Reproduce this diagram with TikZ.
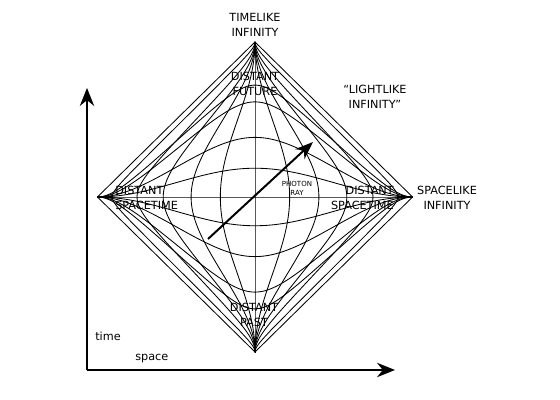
\documentclass[tikz,border=0pt]{standalone}
\usepackage{fontspec}
\setmainfont{DejaVu Sans}
\usetikzlibrary{positioning,arrows.meta}

\tikzset{
  gridline/.style={line width=0.6pt},
  label/.style={align=center, inner sep=0pt, font=\fontsize{8}{10.5}\selectfont},
  axis/.style={line width=1.4pt, -{Stealth[length=0.45cm,width=0.36cm]}}
}

\begin{document}
\begin{tikzpicture}
  \useasboundingbox (0,0) rectangle (14,10);

  % the diamond, angles in degrees
  \begin{scope}[shift={(6.375,5.075)}, x=0.021875cm, y=0.021528cm]
    \coordinate (top)    at (0,180);
    \coordinate (bottom) at (0,-180);
    \coordinate (left)   at (-180,0);
    \coordinate (right)  at (180,0);
    \draw[gridline] (top) -- (right) -- (bottom) -- (left) -- cycle;
    % constant time
    \foreach \t in {0,0.3,-0.3,0.69,-0.69,1.44,-1.44,2.14,-2.14}
      \draw[gridline] (left) -- plot[domain=-89.9:89.9, samples=120, variable=\s]
        ({atan(\t+tan(\s))-atan(\t-tan(\s))}, {atan(\t+tan(\s))+atan(\t-tan(\s))}) -- (right);
    % constant space
    \foreach \x in {0,0.36,-0.36,0.74,-0.74,1.3,-1.3,2.4,-2.4,6.7,-6.7}
      \draw[gridline] (bottom) -- plot[domain=-89.9:89.9, samples=120, variable=\s]
        ({atan(tan(\s)+\x)-atan(tan(\s)-\x)}, {atan(tan(\s)+\x)+atan(tan(\s)-\x)}) -- (top);
  \end{scope}

  % photon
  \coordinate (raystart) at (5.2,4.025);
  \coordinate (rayend)   at (7.825,6.45);
  \draw[line width=1.4pt, -{Stealth[length=0.45cm,width=0.34cm]}] (raystart) -- (rayend);

  % axes
  \coordinate (origin) at (2.175,0.75);
  \coordinate (timeend) at (2.175,7.8);
  \coordinate (spaceend) at (9.875,0.75);
  \draw[axis] (origin) -- (timeend);
  \draw[axis] (origin) -- (spaceend);

  % labels
  \node (timelike)  at (6.375,9.375) [label] {TIMELIKE\\INFINITY};
  \node (future)    at (6.375,7.9)   [label] {DISTANT\\FUTURE};
  \node (lightlike) at (9.375,7.575) [label] {“LIGHTLIKE\\INFINITY”};
  \node (spaceleft) at (2.875,5.05)  [label, anchor=west, align=left] {DISTANT\\SPACETIME};
  \node (spaceright) at (9.85,5.05)  [label, anchor=east, align=right] {DISTANT\\SPACETIME};
  \node (spacelike) at (11.175,5.05) [label] {SPACELIKE\\INFINITY};
  \node (photon)    at (7.425,5.3)   [label, font=\fontsize{5}{6.5}\selectfont] {PHOTON\\RAY};
  \node (past)      at (6.35,2.125)  [label] {DISTANT\\PAST};
  \node (time)      at (2.375,1.6)   [label, anchor=west] {time};
  \node (space)     [label, below right=0.45cm and 1cm of time.west] {space};
\end{tikzpicture}
\end{document}
